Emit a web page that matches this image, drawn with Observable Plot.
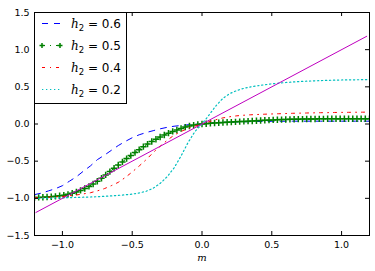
<!DOCTYPE html>
<html><head><meta charset="utf-8">
<script src="https://cdn.jsdelivr.net/npm/d3@7"></script>
<script src="https://cdn.jsdelivr.net/npm/@observablehq/plot@0.6"></script>
<style>body{margin:0;background:#fff}</style>
</head><body><div id="chart"></div>
<script>
// ---- data ----
const xGrid = [-1.2,-1.15,-1.1,-1.05,-1,-0.95,-0.9,-0.85,-0.8,-0.75,-0.7,-0.65,-0.6,-0.55,-0.5,-0.45,-0.4,-0.35,-0.3,-0.25,-0.2,-0.15,-0.1,-0.05,0,
  0.05,0.1,0.15,0.2,0.25,0.3,0.35,0.4,0.45,0.5,0.55,0.6,0.65,0.7,0.75,0.8,0.85,0.9,0.95,1,1.05,1.1,1.15,1.2];
const h06 = [-0.95,-0.93,-0.90,-0.87,-0.83,-0.77,-0.71,-0.635,-0.565,-0.48,-0.42,-0.355,-0.29,-0.235,-0.185,-0.145,-0.115,-0.09,-0.065,-0.045,-0.03,-0.02,-0.01,-0.004,0,
  0.009,0.016,0.021,0.025,0.028,0.03,0.032,0.034,0.035,0.036,0.037,0.037,0.038,0.038,0.038,0.038,0.038,0.038,0.038,0.038,0.038,0.038,0.038,0.038];
const h04 = [-0.99,-0.99,-0.985,-0.98,-0.975,-0.965,-0.955,-0.94,-0.925,-0.9,-0.87,-0.83,-0.785,-0.72,-0.645,-0.565,-0.48,-0.385,-0.3,-0.22,-0.15,-0.1,-0.06,-0.028,0,
  0.03,0.058,0.082,0.098,0.11,0.118,0.124,0.128,0.132,0.135,0.138,0.141,0.144,0.146,0.148,0.15,0.152,0.153,0.155,0.156,0.157,0.158,0.159,0.16];
const h02 = [-1.0,-0.998,-0.997,-0.995,-0.993,-0.99,-0.988,-0.985,-0.982,-0.978,-0.973,-0.967,-0.96,-0.953,-0.943,-0.928,-0.905,-0.865,-0.8,-0.71,-0.59,-0.43,-0.25,-0.1,0,
  0.12,0.245,0.345,0.41,0.45,0.48,0.5,0.515,0.528,0.54,0.55,0.558,0.565,0.571,0.576,0.58,0.584,0.587,0.59,0.592,0.594,0.595,0.596,0.596];
const xGreen = [-1.2,-1.17,-1.14,-1.11,-1.08,-1.05,-1.02,-0.99,-0.96,-0.93,-0.9,-0.87,-0.84,-0.81,-0.78,-0.75,-0.72,-0.69,-0.66,-0.63,
  -0.6,-0.57,-0.54,-0.51,-0.48,-0.45,-0.42,-0.39,-0.36,-0.33,-0.3,-0.27,-0.24,-0.21,-0.18,-0.15,-0.12,-0.09,-0.06,-0.03,0,
  0.03,0.06,0.09,0.12,0.15,0.18,0.21,0.24,0.27,0.3,0.33,0.36,0.39,0.42,0.45,0.48,0.51,0.54,0.57,0.6,
  0.63,0.66,0.69,0.72,0.75,0.78,0.81,0.84,0.87,0.9,0.93,0.96,0.99,1.02,1.05,1.08,1.11,1.14,1.17,1.2];
const h05 = [-0.99,-0.988,-0.985,-0.982,-0.978,-0.973,-0.966,-0.957,-0.946,-0.932,-0.914,-0.893,-0.868,-0.84,-0.807,-0.77,-0.73,-0.685,-0.64,-0.595,
  -0.55,-0.51,-0.465,-0.425,-0.385,-0.345,-0.305,-0.27,-0.235,-0.205,-0.175,-0.148,-0.123,-0.1,-0.08,-0.06,-0.042,-0.027,-0.015,-0.006,0,
  0.004,0.009,0.013,0.017,0.02,0.023,0.026,0.029,0.032,0.035,0.038,0.041,0.044,0.047,0.05,0.052,0.055,0.057,0.059,0.061,
  0.063,0.064,0.065,0.066,0.067,0.068,0.068,0.069,0.069,0.07,0.07,0.07,0.07,0.07,0.07,0.07,0.07,0.07,0.07,0.07];
const identX = [-1.19, 1.18];
const identY = [-1.19, 1.18];
const xTicks = [-1.0,-0.5,0.0,0.5,1.0];
const yTicks = [-1.5,-1.0,-0.5,0.0,0.5,1.0,1.5];
const legendLabels = ["0.6","0.5","0.4","0.2"];
const xLabel = "m";

// ---- build ----
const toRows = (xs, ys) => xs.map((x,i)=>({x, y: ys[i]}));
const blue = toRows(xGrid, h06), red = toRows(xGrid, h04), cyan = toRows(xGrid, h02);
const green = toRows(xGreen, h05), ident = toRows(identX, identY);

const W=375, H=271, mL=34, mR=6, mT=12, mB=36;
const pw = W-mL-mR, ph = H-mT-mB;
const fmt = d3.format(".1f");

const plot = Plot.plot({
  width: W, height: H, marginLeft: mL, marginRight: mR, marginTop: mT, marginBottom: mB,
  style: {fontFamily: "DejaVu Sans", fontSize: "9.5px", background: "white", color: "black"},
  x: {domain: [-1.2, 1.2]},
  y: {domain: [-1.5, 1.5]},
  marks: [
    Plot.line(blue, {x: "x", y: "y", stroke: "#0000ff", strokeWidth: 1, strokeDasharray: "6,6", clip: true}),
    Plot.line(green, {x: "x", y: "y", stroke: "#008000", strokeWidth: 1, strokeDasharray: "3,5,1,5", clip: true}),
    Plot.dot(green, {x: "x", y: "y", symbol: "plus", r: 2.2, stroke: "#008000", strokeWidth: 1.5, clip: true}),
    Plot.line(red, {x: "x", y: "y", stroke: "#ff0000", strokeWidth: 1, strokeDasharray: "3,5,1,5", clip: true}),
    Plot.line(cyan, {x: "x", y: "y", stroke: "#00bfbf", strokeWidth: 1.2, strokeDasharray: "1.3,2.7", clip: true}),
    Plot.line(ident, {x: "x", y: "y", stroke: "#bf00bf", strokeWidth: 1, clip: true}),
    Plot.tickX(xTicks, {x: d => d, insetTop: ph - 4, stroke: "black"}),
    Plot.tickX(xTicks, {x: d => d, insetBottom: ph - 4, stroke: "black"}),
    Plot.tickY(yTicks, {y: d => d, insetRight: pw - 4, stroke: "black"}),
    Plot.tickY(yTicks, {y: d => d, insetLeft: pw - 4, stroke: "black"}),
    Plot.axisX(xTicks, {anchor: "bottom", tickSize: 0, tickPadding: 6, tickFormat: fmt, label: null}),
    Plot.axisY(yTicks, {anchor: "left", tickSize: 0, tickPadding: 5, tickFormat: fmt, label: null}),
    Plot.frame({stroke: "black", strokeWidth: 1}),
    Plot.text([xLabel], {frameAnchor: "bottom", dy: 25, text: d => d, fontFamily: "DejaVu Serif", fontStyle: "italic", fontSize: 10})
  ]
});

// ---- legend ----
const svg = d3.select(plot);
const lg = svg.append("g").attr("text-anchor", "start");
lg.append("rect").attr("x", 34.5).attr("y", 12.5).attr("width", 92).attr("height", 91)
  .attr("fill", "white").attr("stroke", "black").attr("stroke-width", 1);
const styles = [
  {c: "#0000ff", d: "6,6", w: 1},
  {c: "#008000", d: "3,5,1,5", w: 1, m: true},
  {c: "#ff0000", d: "3,5,1,5", w: 1},
  {c: "#00bfbf", d: "1.3,2.7", w: 1.2}
];
legendLabels.forEach((lab, i) => {
  const yy = 23.5 + i * 22;
  const s = styles[i];
  lg.append("line").attr("x1", 42).attr("x2", 60).attr("y1", yy).attr("y2", yy)
    .attr("stroke", s.c).attr("stroke-width", s.w).attr("stroke-dasharray", s.d);
  if (s.m) {
    [42, 60].forEach(px => {
      lg.append("path").attr("d", `M${px-2.5},${yy}H${px+2.5}M${px},${yy-2.5}V${yy+2.5}`)
        .attr("stroke", s.c).attr("stroke-width", 1.5);
    });
  }
  const t = lg.append("text").attr("x", 71).attr("y", yy + 4.5).attr("text-anchor", "start")
    .attr("font-family", "DejaVu Sans").attr("font-size", 12).attr("fill", "black");
  t.append("tspan").attr("font-family", "DejaVu Serif").attr("font-style", "italic").text("h");
  t.append("tspan").attr("font-size", 8.5).attr("dy", 3).text("2");
  t.append("tspan").attr("dy", -3).text(" = " + lab);
});

document.getElementById("chart").appendChild(plot);
</script>
</body></html>
